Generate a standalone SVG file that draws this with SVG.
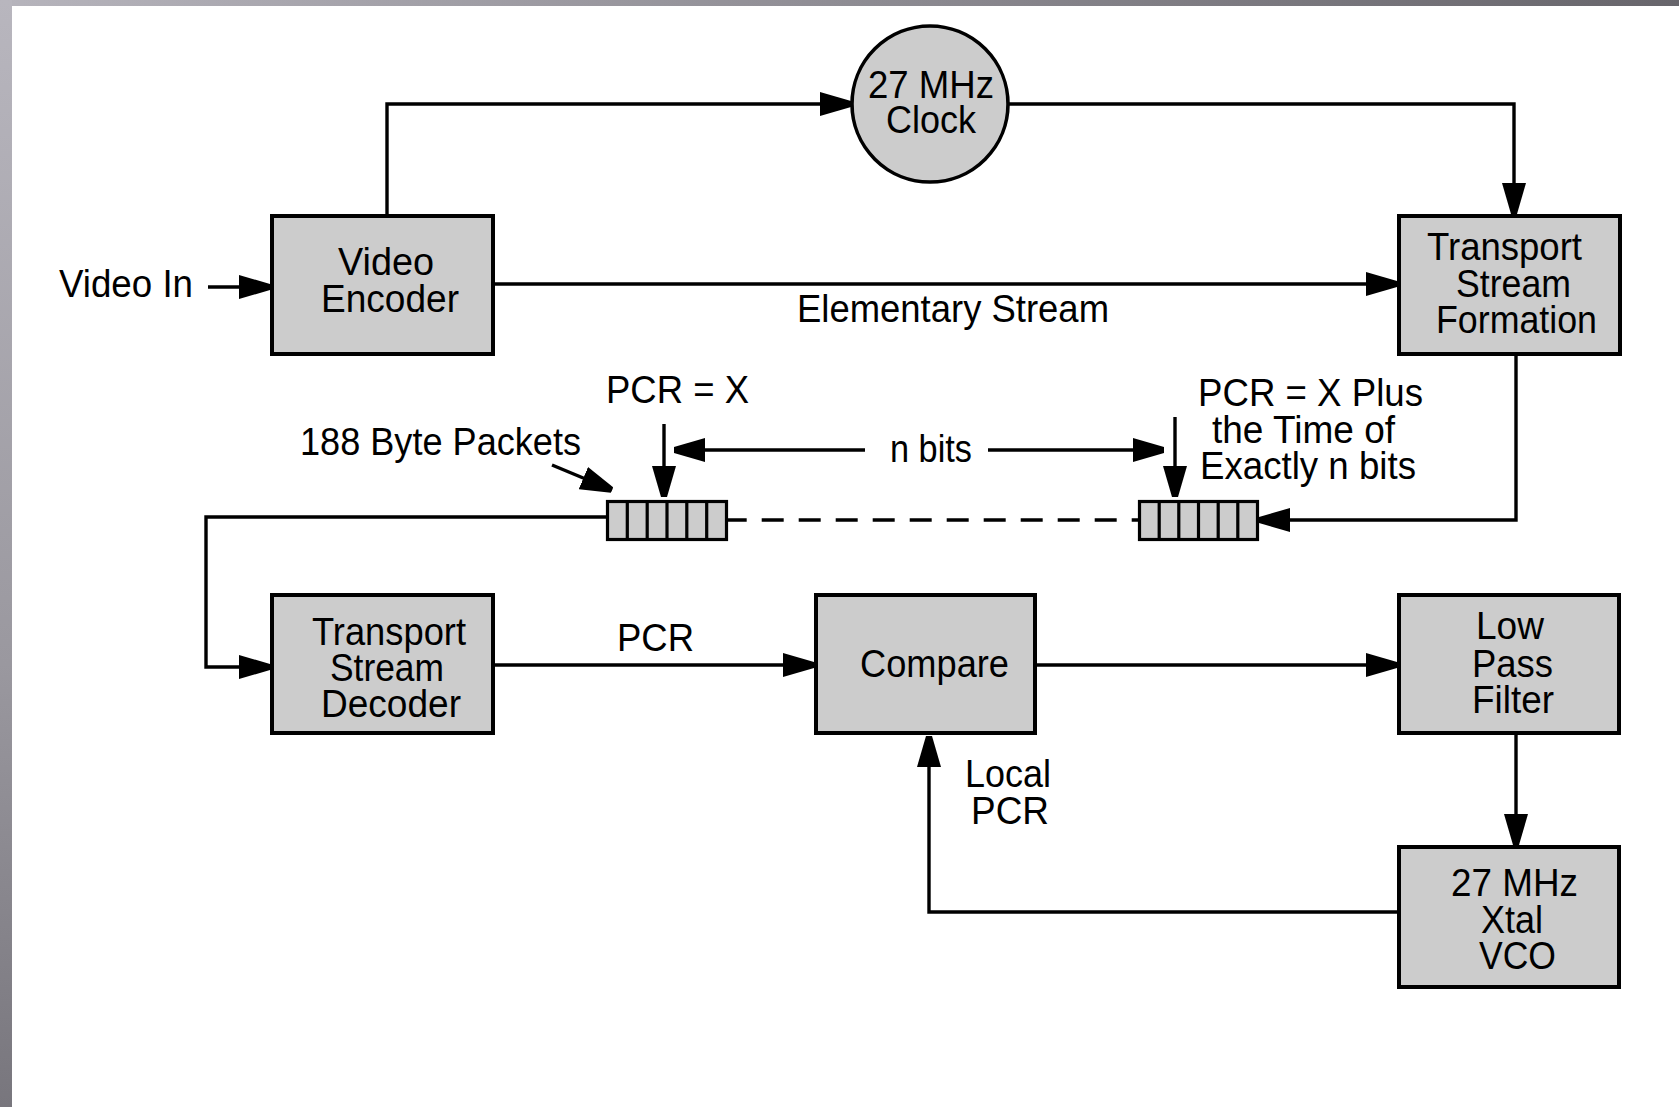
<svg xmlns="http://www.w3.org/2000/svg" width="1679" height="1107" viewBox="0 0 1679 1107">
<style>
.box{fill:#cccccc;stroke:#000;stroke-width:4}
.pk{fill:#cccccc;stroke:#000;stroke-width:3.2}
.dv{stroke:#000;stroke-width:3.2}
.ln{fill:none;stroke:#000;stroke-width:3.4}
.ar{marker-end:url(#ah)}
text{font-family:"Liberation Sans",Arial,sans-serif;font-size:38px;fill:#000}
</style>
<defs>
<linearGradient id="gtop" x1="0" y1="0" x2="1" y2="0">
<stop offset="0" stop-color="#b6b4bc"/>
<stop offset="1" stop-color="#67656b"/>
</linearGradient>
<linearGradient id="gleft" x1="0" y1="0" x2="0" y2="1">
<stop offset="0" stop-color="#b8b6be"/>
<stop offset="0.6" stop-color="#9a989f"/>
<stop offset="1" stop-color="#78767d"/>
</linearGradient>
<marker id="ah" markerUnits="userSpaceOnUse" markerWidth="32" markerHeight="26" viewBox="0 0 32 26" refX="31" refY="13" orient="auto">
<path d="M0,1 L31,10 L31,16 L0,25 Z" fill="#000"/>
</marker>
</defs>
<rect x="0" y="0" width="1679" height="1107" fill="#ffffff"/>
<rect x="0" y="0" width="1679" height="6" fill="url(#gtop)"/>
<rect x="0" y="0" width="12" height="1107" fill="url(#gleft)"/>

<g id="connectors">
<path class="ln ar" d="M208,287 H270"/>
<path class="ln ar" d="M387,214 V104 H851"/>
<path class="ln ar" d="M1009,104 H1514 V214"/>
<path class="ln ar" d="M495,284 H1397"/>
<path class="ln ar" d="M1516,356 V520 H1259"/>
<path class="ln" d="M727,520 H1138" stroke-dasharray="22 15" stroke-dashoffset="2.3"/>
<path class="ln ar" d="M606,517 H206 V667 H270"/>
<path class="ln ar" d="M495,665 H814"/>
<path class="ln ar" d="M1037,665 H1397"/>
<path class="ln ar" d="M1516,735 V845"/>
<path class="ln ar" d="M1397,912 H929 V736"/>
<path class="ln ar" d="M664,424 V497"/>
<path class="ln ar" d="M1175,417 V497"/>
<path class="ln ar" d="M865,450 H674"/>
<path class="ln ar" d="M988,450 H1164"/>
<path class="ln ar" d="M552,465 L612,490"/>
</g>

<g id="video-in-label"><text x="59" y="297" textLength="134" lengthAdjust="spacingAndGlyphs">Video In</text></g>

<g id="video-encoder">
<rect class="box" x="272" y="216" width="221" height="138"/>
<text x="338" y="275" textLength="96" lengthAdjust="spacingAndGlyphs">Video</text>
<text x="321" y="312" textLength="138" lengthAdjust="spacingAndGlyphs">Encoder</text>
</g>

<g id="clock">
<circle cx="930" cy="104" r="78" fill="#cccccc" stroke="#000" stroke-width="3.6"/>
<text x="868" y="98" textLength="126" lengthAdjust="spacingAndGlyphs">27 MHz</text>
<text x="886" y="133" textLength="90" lengthAdjust="spacingAndGlyphs">Clock</text>
</g>

<g id="ts-formation">
<rect class="box" x="1399" y="216" width="221" height="138"/>
<text x="1427" y="260" textLength="155" lengthAdjust="spacingAndGlyphs">Transport</text>
<text x="1456" y="297" textLength="115" lengthAdjust="spacingAndGlyphs">Stream</text>
<text x="1436" y="333" textLength="161" lengthAdjust="spacingAndGlyphs">Formation</text>
</g>

<g id="elementary-label"><text x="797" y="322" textLength="312" lengthAdjust="spacingAndGlyphs">Elementary Stream</text></g>

<g id="packets-left">
<rect class="pk" x="607.5" y="501.5" width="119" height="38"/>
<path class="dv" d="M627.3,501.5 V539.5 M647.2,501.5 V539.5 M667,501.5 V539.5 M686.8,501.5 V539.5 M706.7,501.5 V539.5"/>
</g>
<g id="packets-right">
<rect class="pk" x="1139.5" y="501.5" width="118" height="38"/>
<path class="dv" d="M1159.2,501.5 V539.5 M1178.8,501.5 V539.5 M1198.5,501.5 V539.5 M1218.2,501.5 V539.5 M1237.8,501.5 V539.5"/>
</g>

<g id="labels-mid">
<text x="606" y="403" textLength="143" lengthAdjust="spacingAndGlyphs">PCR = X</text>
<text x="300" y="455" textLength="281" lengthAdjust="spacingAndGlyphs">188 Byte Packets</text>
<text x="890" y="462" textLength="82" lengthAdjust="spacingAndGlyphs">n bits</text>
<text x="1198" y="406" textLength="225" lengthAdjust="spacingAndGlyphs">PCR = X Plus</text>
<text x="1212" y="443" textLength="183" lengthAdjust="spacingAndGlyphs">the Time of</text>
<text x="1200" y="479" textLength="216" lengthAdjust="spacingAndGlyphs">Exactly n bits</text>
</g>

<g id="ts-decoder">
<rect class="box" x="272" y="595" width="221" height="138"/>
<text x="312" y="645" textLength="154" lengthAdjust="spacingAndGlyphs">Transport</text>
<text x="330" y="681" textLength="114" lengthAdjust="spacingAndGlyphs">Stream</text>
<text x="321" y="717" textLength="140" lengthAdjust="spacingAndGlyphs">Decoder</text>
</g>

<g id="pcr-label"><text x="617" y="651" textLength="77" lengthAdjust="spacingAndGlyphs">PCR</text></g>

<g id="compare">
<rect class="box" x="816" y="595" width="219" height="138"/>
<text x="860" y="677" textLength="149" lengthAdjust="spacingAndGlyphs">Compare</text>
</g>

<g id="low-pass-filter">
<rect class="box" x="1399" y="595" width="220" height="138"/>
<text x="1476" y="639" textLength="68" lengthAdjust="spacingAndGlyphs">Low</text>
<text x="1472" y="677" textLength="81" lengthAdjust="spacingAndGlyphs">Pass</text>
<text x="1472" y="713" textLength="82" lengthAdjust="spacingAndGlyphs">Filter</text>
</g>

<g id="xtal-vco">
<rect class="box" x="1399" y="847" width="220" height="140"/>
<text x="1451" y="896" textLength="127" lengthAdjust="spacingAndGlyphs">27 MHz</text>
<text x="1481" y="933" textLength="62" lengthAdjust="spacingAndGlyphs">Xtal</text>
<text x="1479" y="969" textLength="77" lengthAdjust="spacingAndGlyphs">VCO</text>
</g>

<g id="local-pcr-label">
<text x="965" y="787" textLength="86" lengthAdjust="spacingAndGlyphs">Local</text>
<text x="971" y="824" textLength="78" lengthAdjust="spacingAndGlyphs">PCR</text>
</g>
</svg>
